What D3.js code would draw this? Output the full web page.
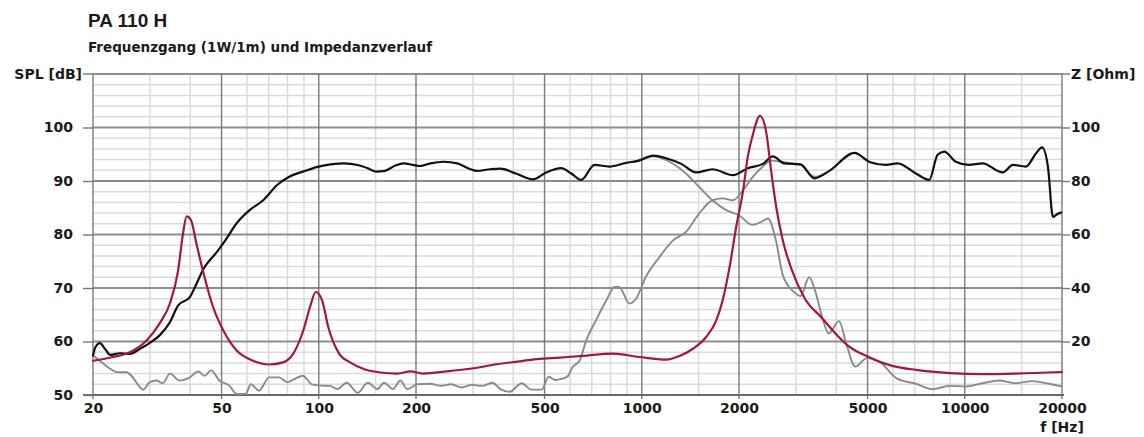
<!DOCTYPE html>
<html><head><meta charset="utf-8">
<script src="https://cdn.jsdelivr.net/npm/d3@7"></script>
<style>
html,body{margin:0;padding:0;background:#fff;}
text{font-family:"DejaVu Sans",Arial,sans-serif;font-weight:bold;fill:#1a1a1a;}
</style></head>
<body>
<script>
// ---- data ----
const title = "PA 110 H";
const subtitle = "Frequenzgang (1W/1m) und Impedanzverlauf";
const freqTicks = [20,50,100,200,500,1000,2000,5000,10000,20000];
const freqMinor = [30,40,60,70,80,90,150,300,400,600,700,800,900,1500,3000,4000,6000,7000,8000,9000,15000];
const splTicks = [50,60,70,80,90,100];
const zTicks = [20,40,60,80,100];

// total SPL [Hz, dB]
const splTotal = [[20,57.4],[20.3,58.8],[21,59.7],[21.8,58.6],[22.6,57.5],[24.2,57.8],[26,57.7],[27.9,58.6],[30,59.75],[32.1,61.1],[34.6,63.6],[36.7,66.75],[39.9,68.3],[41.4,70.2],[44,73.6],[48.4,76.75],[51.8,79.25],[55.7,82.1],[61.2,84.6],[67.3,86.4],[74.3,89.25],[81,90.8],[89.3,91.75],[98.5,92.6],[108.7,93.1],[119.8,93.3],[132,93],[141.8,92.4],[150.8,91.75],[160.3,91.9],[172.6,92.9],[182.9,93.3],[196,93],[206,92.8],[221.6,93.3],[243.3,93.6],[268.5,93.3],[289.4,92.4],[308,91.9],[340,92.2],[365,92.3],[408,91.4],[460,90.3],[506,91.6],[563,92.4],[605,91.4],[649,90.2],[714,93],[794,92.7],[894,93.4],[981,93.8],[1085,94.75],[1190,94.25],[1325,93.2],[1472,91.6],[1655,92.2],[1917,91.1],[2128,92.4],[2371,93.2],[2546,94.6],[2760,93.3],[3100,93.1],[3425,90.5],[3810,91.9],[4555,95.25],[5100,93.5],[5700,93],[6200,93.3],[7060,91.4],[7760,90.2],[8240,94.9],[8640,95.5],[9380,93.6],[10300,93],[11350,93.3],[13100,91.6],[14100,93],[15460,92.7],[16630,95.2],[17360,96.3],[18090,92.7],[18750,83.3],[19430,83.9],[19880,84.1]];

// gray curve rising at high frequencies [Hz, dB]
const splHigh = [[20,57.4],[21,56.4],[22.6,54.9],[23.8,54.25],[25.4,54.25],[26.3,53.6],[27.5,52],[28.6,51],[30,52.4],[31.4,52.7],[32.9,52.2],[34.6,54],[37.1,52.7],[39.9,53.3],[42.3,54.4],[44.3,53.6],[46.4,54.6],[49.2,52.7],[52.9,51.75],[55.7,50.2],[59.3,50.2],[61.7,52],[65.3,50.8],[70.2,53.3],[75.3,53.3],[80,52.4],[84.3,53],[89.3,53.6],[95.1,52],[101.8,51.75],[108.3,51.7],[114.3,51.1],[122,52.3],[132,50.4],[141.8,52.3],[151.8,51.1],[159.3,52.3],[169.7,51.1],[178.9,52.7],[188,51.1],[202,52],[221.6,52.1],[238.7,51.7],[257,52],[277,51.4],[298,51.9],[320,51.7],[345,52.3],[365,51.1],[390,50.6],[425,52.2],[455,51],[490,51],[515,53.4],[540,52.8],[565,53],[590,53.5],[610,55.2],[642,56.4],[673,60.2],[722,64],[777,67.7],[823,70.2],[852,70.2],[915,67.1],[960,68],[1030,72.1],[1135,75.8],[1250,78.9],[1370,80.5],[1505,83.9],[1655,86.4],[1780,86.75],[1915,86.4],[2060,88.3],[2210,90.8],[2370,92.7],[2520,93.8],[2760,93.5],[3100,93],[3425,90.8],[3700,91.4]];

// gray curve falling at high frequencies [Hz, dB]
const splLow = [[950,93.6],[1085,94.6],[1218,93.6],[1370,91.4],[1505,88.9],[1655,86.4],[1820,84.6],[2000,83.6],[2200,81.8],[2350,82.4],[2460,83],[2600,79],[2730,72.5],[2940,69.4],[3100,68.5],[3300,72],[3440,69.5],[3620,64.5],[3790,61.5],[4080,63.8],[4300,59.5],[4580,55.3],[4980,56.9],[5500,56],[6150,53.1],[7060,52.1],[7950,51.1],[8950,51.7],[10080,51.6],[11350,52.2],[12770,52.7],[14370,52.2],[16180,52.6],[18210,52.1],[19880,51.6]];

// impedance [Hz, Ohm]
const impedance = [[20,12.8],[23.1,14.2],[26,16],[29.3,20.4],[32.1,26.6],[34.6,34.2],[36.7,46.6],[38,60.4],[39,66.8],[40.2,65.4],[41.8,56.6],[44,45.4],[47.1,32.8],[50.6,24.2],[55.7,16.6],[62.6,12.8],[70.2,11.4],[77.5,12.2],[83.3,15.4],[89.6,24.2],[93.9,32.8],[97.9,38.5],[102.4,35.4],[107,25.4],[116,15.2],[125,12.2],[138.5,9.6],[155,8.4],[175,8],[192.6,8.8],[210,8],[249,8.8],[301,10],[356,11.5],[412,12.5],[473,13.4],[559,14],[657,14.6],[813,15.5],[981,14.2],[1190,13.2],[1310,14.6],[1436,17.2],[1580,21.6],[1700,27.8],[1780,35.4],[1870,47.8],[1960,62.8],[2060,76.6],[2130,89.2],[2210,97.6],[2324,104.4],[2430,98],[2520,83],[2610,70],[2730,58],[2930,46],[3200,36],[3600,29],[4050,22],[4400,18],[5000,14.4],[6000,10.8],[7060,9.4],[9000,8.2],[11350,7.8],[14370,8],[20000,8.6]];

// ---- chart ----
const W = 1144, H = 437;
const svg = d3.select("body").append("svg").attr("width", W).attr("height", H);
const x = d3.scaleLog().domain([20, 20000]).range([93, 1062]);
const y = d3.scaleLinear().domain([50, 110]).range([395, 74]);
const yz = d3.scaleLinear().domain([0, 120]).range([395, 74]);

const grid = svg.append("g");
const hMinor = d3.range(52, 110, 2).filter(v => v % 10 !== 0);
grid.selectAll(".hm").data(hMinor).join("line")
  .attr("x1", x(20)).attr("x2", x(20000)).attr("y1", d => y(d)).attr("y2", d => y(d))
  .attr("stroke", "#dadada").attr("stroke-width", 1.5);
grid.selectAll(".vm").data(freqMinor).join("line")
  .attr("x1", d => x(d)).attr("x2", d => x(d)).attr("y1", y(110)).attr("y2", y(50))
  .attr("stroke", "#dadada").attr("stroke-width", 1.5);
grid.selectAll(".hM").data(d3.range(60, 111, 10)).join("line")
  .attr("x1", x(20)).attr("x2", x(20000)).attr("y1", d => y(d)).attr("y2", d => y(d))
  .attr("stroke", "#8e8e8e").attr("stroke-width", 1.8);
grid.selectAll(".vM").data(freqTicks).join("line")
  .attr("x1", d => x(d)).attr("x2", d => x(d)).attr("y1", y(110)).attr("y2", y(50) + 4)
  .attr("stroke", "#7a7a7a").attr("stroke-width", 1.4);
grid.append("line").attr("x1", 83).attr("x2", x(20000) + 2).attr("y1", y(50)).attr("y2", y(50))
  .attr("stroke", "#6a6a6a").attr("stroke-width", 1.8);

// left axis
const leftAx = svg.append("g").attr("transform", `translate(${x(20)},0)`)
  .call(d3.axisLeft(y).tickValues(splTicks).tickSize(10).tickPadding(10).tickFormat(d3.format("d")));
leftAx.select(".domain").remove();
leftAx.selectAll(".tick line").attr("stroke", "#777").attr("stroke-width", 1.4);
leftAx.selectAll("text").style("font-size", "14px").attr("fill", "#1a1a1a");
svg.append("line").attr("x1", 83).attr("x2", x(20)).attr("y1", y(110)).attr("y2", y(110))
  .attr("stroke", "#777").attr("stroke-width", 1.4);
svg.append("text").attr("x", 82).attr("y", y(110) + 5).attr("text-anchor", "end")
  .style("font-size", "14px").text("SPL [dB]");

// right axis
const rightAx = svg.append("g").attr("transform", `translate(${x(20000)},0)`)
  .call(d3.axisRight(yz).tickValues(zTicks).tickSize(8).tickPadding(1).tickFormat(d3.format("d")));
rightAx.select(".domain").remove();
rightAx.selectAll(".tick line").attr("stroke", "#777").attr("stroke-width", 1.4);
rightAx.selectAll("text").style("font-size", "14px").attr("fill", "#1a1a1a");
svg.append("line").attr("x1", x(20000)).attr("x2", x(20000) + 8).attr("y1", yz(120)).attr("y2", yz(120))
  .attr("stroke", "#777").attr("stroke-width", 1.4);
svg.append("text").attr("x", x(20000) + 9).attr("y", yz(120) + 5)
  .style("font-size", "14px").text("Z [Ohm]");

// bottom axis
const botAx = svg.append("g").attr("transform", `translate(0,${y(50)})`)
  .call(d3.axisBottom(x).tickValues(freqTicks).tickSize(4).tickPadding(4).tickFormat(d3.format("d")));
botAx.select(".domain").remove();
botAx.selectAll(".tick line").remove();
botAx.selectAll("text").style("font-size", "14px").attr("fill", "#1a1a1a");
svg.append("text").attr("x", x(20000)).attr("y", 432).attr("text-anchor", "middle")
  .style("font-size", "14px").text("f [Hz]");

// titles
svg.append("text").attr("x", 88).attr("y", 27).style("font-family", "'Liberation Sans', Arial, sans-serif")
  .style("font-size", "19px").text(title);
svg.append("text").attr("x", 88).attr("y", 52).style("font-size", "13.5px").text(subtitle);

// curves
const lineDb = d3.line().x(d => x(d[0])).y(d => y(d[1])).curve(d3.curveMonotoneX);
const lineZ = d3.line().x(d => x(d[0])).y(d => yz(d[1])).curve(d3.curveMonotoneX);
const curves = svg.append("g").attr("fill", "none").attr("stroke-linejoin", "round").attr("stroke-linecap", "round");
curves.append("path").datum(splHigh).attr("d", lineDb).attr("stroke", "#8a8a8a").attr("stroke-width", 1.9);
curves.append("path").datum(splLow).attr("d", lineDb).attr("stroke", "#8a8a8a").attr("stroke-width", 1.9);
curves.append("path").datum(splTotal).attr("d", lineDb).attr("stroke", "#111").attr("stroke-width", 2.2);
curves.append("path").datum(impedance).attr("d", lineZ).attr("stroke", "#a3173f").attr("stroke-width", 2.2);
</script>
</body></html>
